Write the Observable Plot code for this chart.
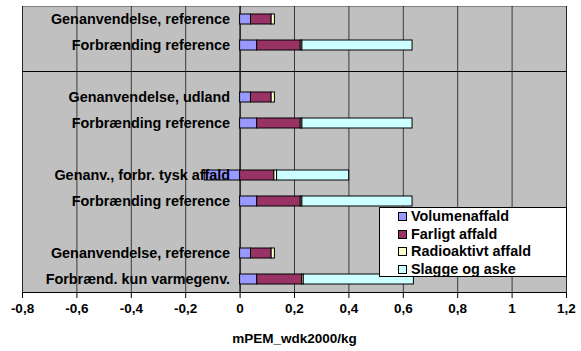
<!DOCTYPE html>
<html>
<head>
<meta charset="utf-8">
<script src="https://cdn.jsdelivr.net/npm/d3@7"></script>
<script src="https://cdn.jsdelivr.net/npm/@observablehq/plot@0.6"></script>
<style>
  html, body { margin: 0; padding: 0; background: #fff; }
  #wrap { position: relative; width: 581px; height: 351px; font-family: "Liberation Sans", Arial, sans-serif; font-weight: bold; }
  #legend { position: absolute; left: 379px; top: 207px; width: 188px; height: 70px; box-sizing: border-box;
            border: 1px solid #000; background: #fff; }
  .item { position: absolute; left: 18px; height: 17px; display: flex; align-items: center; font-size: 14.4px; line-height: 17px; white-space: nowrap; }
  .sw { width: 7px; height: 7px; border: 1px solid #000; margin-right: 4px; }
</style>
</head>
<body>
<div id="wrap"></div>
<script>
const categories = [
  "Genanvendelse, reference",
  "Forbrænding reference",
  "",
  "Genanvendelse, udland",
  "Forbrænding reference",
  "",
  "Genanv., forbr. tysk affald",
  "Forbrænding reference",
  "",
  "Genanvendelse, reference",
  "Forbrænd. kun varmegenv."
];
const series = ["Volumenaffald", "Farligt affald", "Radioaktivt affald", "Slagge og aske"];
const volumenaffald = [0.04, 0.063, null, 0.04, 0.063, null, -0.13, 0.063, null, 0.04, 0.063];
const farligtAffald = [0.076, 0.16, null, 0.076, 0.16, null, 0.126, 0.16, null, 0.076, 0.165];
const radioaktivtAffald = [0.012, 0.006, null, 0.012, 0.006, null, 0.01, 0.006, null, 0.012, 0.006];
const slaggeOgAske = [0, 0.405, null, 0, 0.405, null, 0.265, 0.405, null, 0, 0.405];
const seriesColors = ["#9999FF", "#993366", "#FFFFCC", "#CCFFFF"];
const xTicks = [-0.8, -0.6, -0.4, -0.2, 0, 0.2, 0.4, 0.6, 0.8, 1, 1.2];
const separatorRows = [2];
const xLabel = "mPEM_wdk2000/kg";

const seriesValues = [volumenaffald, farligtAffald, radioaktivtAffald, slaggeOgAske];
const rows = [];
categories.forEach((c, i) => {
  series.forEach((s, j) => {
    const v = seriesValues[j][i];
    if (v != null && v !== 0) rows.push({row: i, series: s, value: v});
  });
});
const labels = categories.map((c, i) => ({row: i, label: c})).filter(d => d.label !== "");
const fmt = d => String(+d.toFixed(1)).replace(".", ",");

const chart = Plot.plot({
  width: 581,
  height: 351,
  marginLeft: 22,
  marginRight: 15,
  marginTop: 6,
  marginBottom: 59,
  style: {fontFamily: "'Liberation Sans', Arial, sans-serif", fontWeight: "bold", fontSize: "13.5px", color: "#000", background: "transparent"},
  x: {domain: [-0.8, 1.2]},
  y: {domain: d3.range(categories.length), paddingInner: 0.6, paddingOuter: 0.3, axis: null},
  color: {domain: series, range: seriesColors},
  marks: [
    Plot.frame({fill: "#C0C0C0", stroke: "#808080"}),
    Plot.gridX(xTicks, {stroke: "#000", strokeOpacity: 0.7}),
    Plot.ruleX([0], {stroke: "#000", strokeOpacity: 1}),
    Plot.ruleY(separatorRows, {y: d => d, stroke: "#000"}),
    Plot.barX(rows, Plot.stackX({x: "value", y: "row", fill: "series", stroke: "#000", strokeWidth: 1, order: series})),
    Plot.text(labels, {x: () => 0, y: "row", text: "label", textAnchor: "end", dx: -10, fontSize: 14.4, fontWeight: "bold", fill: "#000"}),
    Plot.frame({anchor: "bottom", stroke: "#000"}),
    Plot.axisX({ticks: xTicks, tickFormat: fmt, tickSize: 6, tickPadding: 5, label: xLabel, labelAnchor: "center", labelArrow: "none", labelOffset: 50, fontSize: 13.5, fontWeight: "bold"})
  ]
});

const wrap = document.getElementById("wrap");
wrap.appendChild(chart);
const legend = document.createElement("div");
legend.id = "legend";
series.forEach((s, j) => {
  const it = document.createElement("div");
  it.className = "item";
  it.style.top = (0 + j * 17.5) + "px";
  const sw = document.createElement("span");
  sw.className = "sw";
  sw.style.background = seriesColors[j];
  const t = document.createElement("span");
  t.textContent = s;
  it.appendChild(sw);
  it.appendChild(t);
  legend.appendChild(it);
});
wrap.appendChild(legend);
</script>
</body>
</html>
